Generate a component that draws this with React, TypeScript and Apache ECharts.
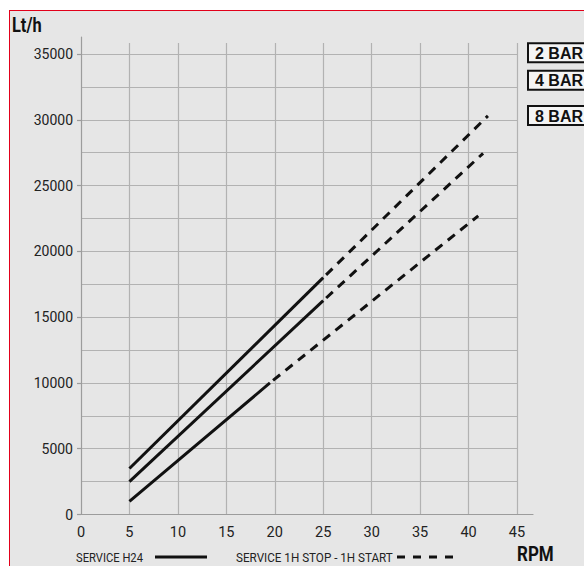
import React, { useEffect, useRef } from "react";
import * as echarts from "echarts";

// Flow rate (Lt/h) against pump speed (RPM) for three delivery pressures.
// Continuous duty (SERVICE H24) is the solid part, intermittent duty the dashed part.
const xTicks = [0, 5, 10, 15, 20, 25, 30, 35, 40, 45];
const yTicks = [0, 5000, 10000, 15000, 20000, 25000, 30000, 35000];
const pressureLabels = ["2 BAR", "4 BAR", "8 BAR"];

const bar2Continuous = [[5, 3500], [25, 18000]];
const bar2Intermittent = [[25, 18000], [42, 30300]];
const bar4Continuous = [[5, 2500], [25, 16250]];
const bar4Intermittent = [[25, 16250], [41.5, 27450]];
const bar8Continuous = [[5, 1000], [19.5, 10000]];
const bar8Intermittent = [[19.5, 10000], [41, 22700]];

const legendContinuous = "SERVICE H24";
const legendIntermittent = "SERVICE 1H STOP - 1H START";

const SANS = 'Roboto, "Liberation Sans", sans-serif';
const BOLD = '"Liberation Sans", Arial, sans-serif';
const INK = "#111";
const DASH = [9, 7];

export default function App() {
  const ref = useRef<HTMLDivElement>(null);

  useEffect(() => {
    if (!ref.current) return;
    const chart = echarts.init(ref.current, null, { renderer: "svg" });

    const lineSeries = (data: number[][], dashed: boolean) => ({
      type: "line",
      xAxisIndex: 0,
      yAxisIndex: 0,
      data,
      symbol: "none",
      silent: true,
      lineStyle: {
        color: INK,
        width: 3,
        type: dashed ? DASH : "solid",
        dashOffset: dashed ? -4 : 0,
        cap: "butt",
      },
    });

    const boxTops = [32.3, 59.7, 95];

    chart.setOption({
      animation: false,
      backgroundColor: "#e6e6e6",
      grid: [
        { left: 71, top: 32, width: 436, height: 471.5 },
        { left: 71, top: 26, width: 452, height: 477.5 },
      ],
      xAxis: [
        {
          type: "value",
          gridIndex: 0,
          min: 0,
          max: 45,
          interval: 5,
          axisLine: { show: false },
          axisTick: { show: false },
          axisLabel: {
            margin: 10,
            fontSize: 14.5,
            fontFamily: SANS,
            color: "#222",
            formatter: (v: number) => (xTicks.includes(v) ? String(v) : ""),
          },
          splitLine: { show: true, showMinLine: false, lineStyle: { color: "#b2b2b2", width: 1.2 } },
        },
        {
          type: "value",
          gridIndex: 1,
          min: 0,
          max: (45 * 452) / 436,
          axisLine: { show: true, lineStyle: { color: "#9c9c9c", width: 1.2 } },
          axisTick: { show: false },
          axisLabel: { show: false },
          splitLine: { show: false },
        },
      ],
      yAxis: [
        {
          type: "value",
          gridIndex: 0,
          min: 0,
          max: (471.5 / 460.5) * 35000,
          interval: 2500,
          axisLine: { show: false },
          axisTick: { show: false },
          axisLabel: { show: false },
          splitLine: {
            show: true,
            showMinLine: false,
            showMaxLine: false,
            lineStyle: { color: "#b2b2b2", width: 1.2 },
          },
        },
        {
          type: "value",
          gridIndex: 1,
          min: 0,
          max: (477.5 / 460.5) * 35000,
          interval: 5000,
          axisLine: { show: true, lineStyle: { color: "#9c9c9c", width: 1.2 } },
          axisTick: { show: true, length: 4, lineStyle: { color: "#9c9c9c", width: 1.2 } },
          axisLabel: {
            margin: 8,
            fontSize: 14,
            fontFamily: SANS,
            color: "#222",
            showMaxLabel: false,
            formatter: (v: number) => (yTicks.includes(v) ? String(v) : ""),
          },
          splitLine: { show: false },
        },
      ],
      series: [
        lineSeries(bar2Continuous, false),
        lineSeries(bar2Intermittent, true),
        lineSeries(bar4Continuous, false),
        lineSeries(bar4Intermittent, true),
        lineSeries(bar8Continuous, false),
        lineSeries(bar8Intermittent, true),
      ],
      graphic: [
        {
          type: "text",
          x: 2,
          y: 13.5,
          scaleX: 0.82,
          style: {
            text: "Lt/h",
            font: `bold 20px ${SANS}`,
            fill: INK,
            verticalAlign: "middle",
          },
        },
        {
          type: "text",
          x: 507,
          y: 543.5,
          scaleX: 0.85,
          style: {
            text: "RPM",
            font: `bold 20px ${SANS}`,
            fill: INK,
            verticalAlign: "middle",
          },
        },
        {
          type: "text",
          x: 66,
          y: 546,
          scaleX: 0.83,
          style: {
            text: legendContinuous,
            font: `13.5px ${SANS}`,
            fill: "#222",
            verticalAlign: "middle",
          },
        },
        {
          type: "line",
          shape: { x1: 145, y1: 546, x2: 197, y2: 546 },
          style: { stroke: INK, lineWidth: 3 },
        },
        {
          type: "text",
          x: 226,
          y: 546,
          scaleX: 0.865,
          style: {
            text: legendIntermittent,
            font: `13.5px ${SANS}`,
            fill: "#222",
            verticalAlign: "middle",
          },
        },
        {
          type: "line",
          shape: { x1: 387, y1: 546, x2: 443, y2: 546 },
          style: { stroke: INK, lineWidth: 3, lineDash: [8, 8] },
        },
        ...pressureLabels.map((label, i) => ({
          type: "group",
          x: 518,
          y: boxTops[i],
          children: [
            {
              type: "rect",
              shape: { x: 0, y: 0, width: 62, height: 19 },
              style: { fill: "#f4f4f4", stroke: INK, lineWidth: 2 },
            },
            {
              type: "text",
              x: 7,
              y: 10,
              style: {
                text: label,
                font: `bold 16px ${BOLD}`,
                fill: INK,
                verticalAlign: "middle",
              },
            },
          ],
        })),
      ],
    });

    return () => chart.dispose();
  }, []);

  return (
    <div
      style={{
        position: "absolute",
        left: 9,
        top: 10,
        width: 575,
        height: 556,
        boxSizing: "border-box",
        borderTop: "1px solid #e2001a",
        borderLeft: "1px solid #e2001a",
        overflow: "hidden",
        background: "#e6e6e6",
      }}
    >
      <div ref={ref} style={{ width: 574, height: 555 }} />
    </div>
  );
}
